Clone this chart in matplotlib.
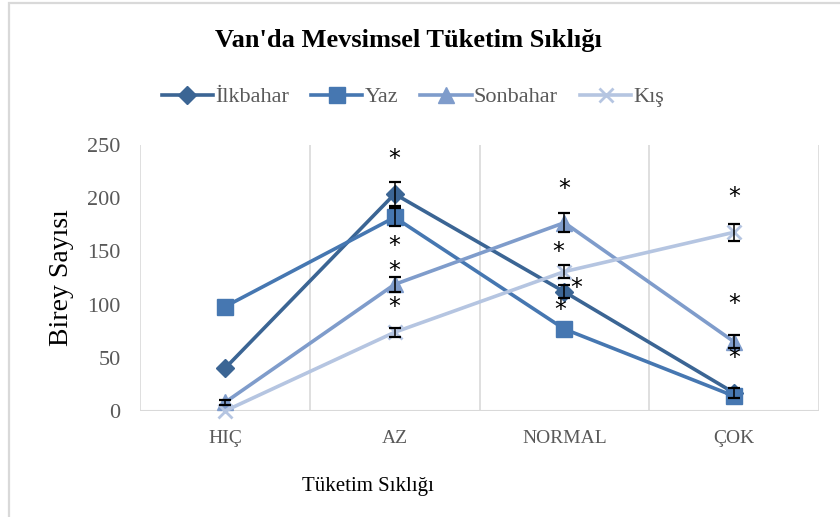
import numpy as np
import matplotlib.pyplot as plt
from matplotlib.patches import Rectangle

categories = ["HIÇ", "AZ", "NORMAL", "ÇOK"]
series_names = ["İlkbahar", "Yaz", "Sonbahar", "Kış"]
ilkbahar = [40, 204, 112, 17]
yaz = [98, 182, 77, 14]
sonbahar = [8, 119, 177, 65]
kis = [0, 74, 131, 168]
ilkbahar_err = [0, 11, 6, 5]
yaz_err = [0, 8.5, 0, 0]
sonbahar_err = [2, 7, 9, 6]
kis_err = [0, 4, 6, 8]

# significance marks (category position, value)
star_x = [1, 1, 1, 1, 2, 1.965, 2.07, 1.975, 3, 3, 3]
star_y = [241, 159, 136, 102, 213, 153, 120, 99, 205, 105, 54]

colors = ["#3b6594", "#4677b1", "#7f9ccb", "#b5c5e1"]
markers = ["D", "s", "^", "x"]
msizes = [9, 11, 11, 10]

plt.rcParams["font.family"] = ["Liberation Serif", "DejaVu Serif"]

fig = plt.figure(figsize=(8.4, 5.17), dpi=100)
ax = fig.add_axes([140 / 840, 1 - 411 / 517, 679 / 840, 266 / 517])

x = np.arange(len(categories))
data = [ilkbahar, yaz, sonbahar, kis]
errs = [ilkbahar_err, yaz_err, sonbahar_err, kis_err]
for vals, err, name, c, m, ms in zip(data, errs, series_names, colors, markers, msizes):
    ax.plot(x, vals, color=c, lw=2.6, marker=m, ms=ms, mew=2 if m == "x" else 1,
            mec=c, mfc=c, label=name, zorder=3, clip_on=False)
    vals = np.array(vals, dtype=float)
    err = np.array(err, dtype=float)
    keep = err > 0
    ax.errorbar(x[keep], vals[keep], yerr=err[keep], fmt="none", ecolor="black",
                elinewidth=1.1, capsize=4.5, capthick=1.6, zorder=4, clip_on=False)

for sx, sy in zip(star_x, star_y):
    ax.text(sx, sy - 4, "*", ha="center", va="center", fontsize=17,
            family="DejaVu Sans", color="black", zorder=5)

ax.set_xlim(-0.5, 3.5)
ax.set_ylim(0, 250)
ax.set_yticks([0, 50, 100, 150, 200, 250])
ax.set_xticks(x)
ax.set_xticklabels(categories)
for v in np.arange(-0.5, 4, 1):
    ax.axvline(v, color="#d9d9d9", lw=1.2, zorder=0)
for s in ax.spines.values():
    s.set_visible(False)
ax.axhline(0, color="#d9d9d9", lw=1.5, zorder=1)
ax.tick_params(axis="y", length=0, pad=14, labelsize=16, labelcolor="#595959")
ax.tick_params(axis="x", length=0, pad=14, labelsize=14, labelcolor="#595959")

fig.text(408 / 840, 1 - 41 / 517, "Van'da Mevsimsel Tüketim Sıklığı",
         ha="center", va="center", fontsize=19, fontweight="bold")
fig.text(61 / 840, 1 - 278 / 517, "Birey Sayısı", rotation=90,
         ha="center", va="center", fontsize=20)
fig.text(368 / 840, 1 - 486 / 517, "Tüketim Sıklığı",
         ha="center", va="center", fontsize=15)

leg = fig.legend(loc="center", bbox_to_anchor=(413 / 840, 1 - 97 / 517), ncol=4,
                 frameon=False, fontsize=16, handlelength=2.3, columnspacing=1.0,
                 handletextpad=0.1)
for t in leg.get_texts():
    t.set_color("#595959")

fig.add_artist(Rectangle((8.5 / 840, -0.05), 1.1, 1 - 2.5 / 517 + 0.05,
                         transform=fig.transFigure, fill=False,
                         edgecolor="#d9d9d9", lw=1.6))

fig.savefig("out.png", dpi=100)
